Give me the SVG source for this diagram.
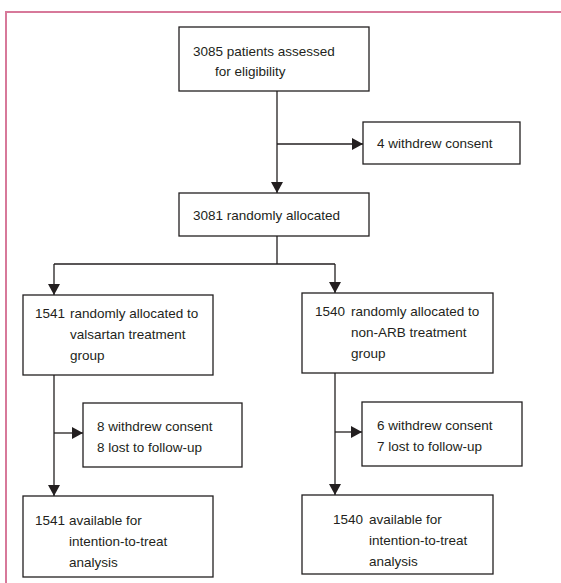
<svg xmlns="http://www.w3.org/2000/svg" width="561" height="583" viewBox="0 0 561 583">
<style>
.box{fill:#fff;stroke:#231f20;stroke-width:1.3}
.ln{fill:none;stroke:#231f20;stroke-width:1.3}
text{font-family:"Liberation Sans",Arial,sans-serif;font-size:13.5px;fill:#231f20}
</style>
<defs>
<marker id="ar" viewBox="0 0 11 12" refX="11" refY="6" markerWidth="11" markerHeight="12" markerUnits="userSpaceOnUse" orient="auto">
<path d="M0,0 L11,6 L0,12 Z" fill="#231f20"/>
</marker>
</defs>
<rect width="561" height="583" fill="#fff"/>
<path d="M6,583 V12 H561" fill="none" stroke="#d7799a" stroke-width="2"/>
<g id="connectors">
<path class="ln" d="M277,91 V193" marker-end="url(#ar)"/>
<path class="ln" d="M277,144 H363" marker-end="url(#ar)"/>
<path class="ln" d="M277,236 V264 M54,264 H335"/>
<path class="ln" d="M54,264 V295" marker-end="url(#ar)"/>
<path class="ln" d="M335,264 V293" marker-end="url(#ar)"/>
<path class="ln" d="M54,375 V496" marker-end="url(#ar)"/>
<path class="ln" d="M54,433 H83" marker-end="url(#ar)"/>
<path class="ln" d="M335,373 V495" marker-end="url(#ar)"/>
<path class="ln" d="M335,432 H362" marker-end="url(#ar)"/>
</g>
<g id="n1">
<rect class="box" x="179" y="27" width="190" height="64"/>
<text x="193" y="56">3085 patients assessed</text>
<text x="215" y="76">for eligibility</text>
</g>
<g id="n2">
<rect class="box" x="363" y="122" width="157" height="42"/>
<text x="377" y="148">4 withdrew consent</text>
</g>
<g id="n3">
<rect class="box" x="179" y="193" width="190" height="43"/>
<text x="193" y="220">3081 randomly allocated</text>
</g>
<g id="n4">
<rect class="box" x="23" y="295" width="190" height="80"/>
<text x="35" y="318">1541</text>
<text x="70" y="318">randomly allocated to</text>
<text x="70" y="339">valsartan treatment</text>
<text x="70" y="360">group</text>
</g>
<g id="n5">
<rect class="box" x="302" y="293" width="191" height="80"/>
<text x="315" y="316">1540</text>
<text x="351" y="316">randomly allocated to</text>
<text x="351" y="337">non-ARB treatment</text>
<text x="351" y="358">group</text>
</g>
<g id="n6">
<rect class="box" x="83" y="403" width="159" height="64"/>
<text x="97" y="431">8 withdrew consent</text>
<text x="97" y="452">8 lost to follow-up</text>
</g>
<g id="n7">
<rect class="box" x="362" y="402" width="160" height="64"/>
<text x="377" y="430">6 withdrew consent</text>
<text x="377" y="451">7 lost to follow-up</text>
</g>
<g id="n8">
<rect class="box" x="23" y="496" width="190" height="81"/>
<text x="35" y="525">1541</text>
<text x="69" y="525">available for</text>
<text x="69" y="546">intention-to-treat</text>
<text x="69" y="567">analysis</text>
</g>
<g id="n9">
<rect class="box" x="302" y="495" width="191" height="79"/>
<text x="333" y="524">1540</text>
<text x="369" y="524">available for</text>
<text x="369" y="545">intention-to-treat</text>
<text x="369" y="566">analysis</text>
</g>
</svg>
